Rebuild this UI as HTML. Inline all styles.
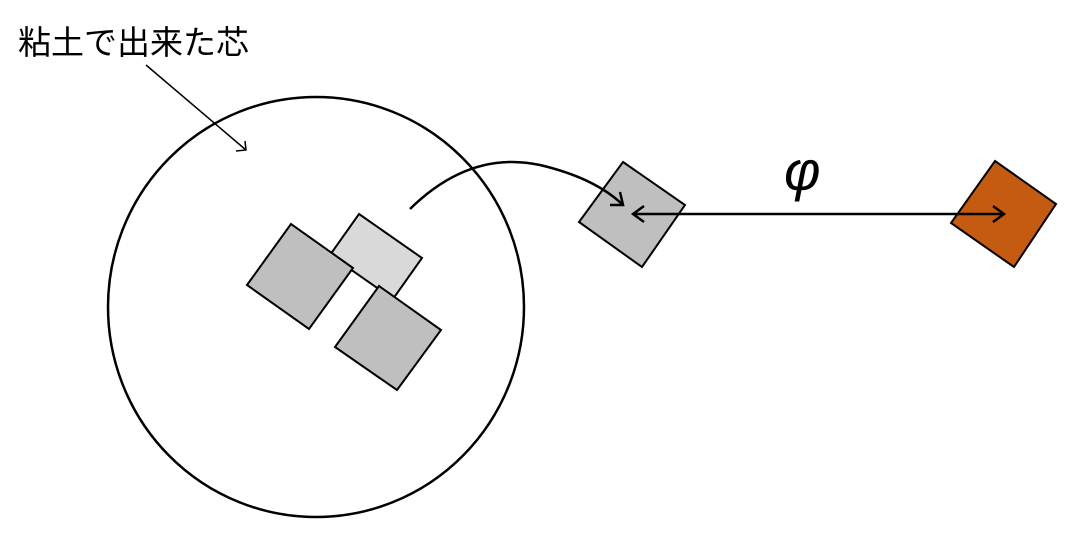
<!DOCTYPE html>
<html><head><meta charset="utf-8"><style>
body{margin:0;width:1076px;height:550px;background:#fff;overflow:hidden}
</style></head><body>
<svg width="1076" height="550" xmlns="http://www.w3.org/2000/svg">
<text x="18" y="54" font-family="Liberation Sans, Noto Sans CJK JP, sans-serif" font-size="33" fill="#000">粘土で出来た芯</text>
<line x1="146" y1="65" x2="246" y2="150" stroke="#000" stroke-width="1.5"/>
<polyline points="236,151 246,150 245,141" fill="none" stroke="#000" stroke-width="1.5"/>
<ellipse cx="316" cy="307" rx="208" ry="210" fill="none" stroke="#000" stroke-width="2.5"/>
<polygon points="359,214 422,258 393,299 330,255" fill="#d9d9d9" stroke="#000" stroke-width="2"/>
<polygon points="247,285 291,224 353,268 309,329" fill="#bfbfbf" stroke="#000" stroke-width="2"/>
<polygon points="379,286 441,330 397,390 335,347" fill="#bfbfbf" stroke="#000" stroke-width="2"/>
<polygon points="623,162 685,205 642,267 579,222" fill="#bfbfbf" stroke="#000" stroke-width="2"/>
<polygon points="995,161 1056,204 1014,267 951,223" fill="#c55a11" stroke="#000" stroke-width="2"/>
<path d="M410,209 Q470,150 540,165 Q595,178 623,205" fill="none" stroke="#000" stroke-width="2.5"/>
<polyline points="610,205 623,205 620,192" fill="none" stroke="#000" stroke-width="2.5"/>
<line x1="633" y1="214" x2="1004" y2="214" stroke="#000" stroke-width="2.5"/>
<polyline points="644,206 633,214 644,222" fill="none" stroke="#000" stroke-width="2.5"/>
<polyline points="993,206 1004,214 993,222" fill="none" stroke="#000" stroke-width="2.5"/>
<text x="784" y="190" font-family="Liberation Sans, sans-serif" font-style="italic" font-size="56" fill="#000">φ</text>
</svg>
</body></html>
